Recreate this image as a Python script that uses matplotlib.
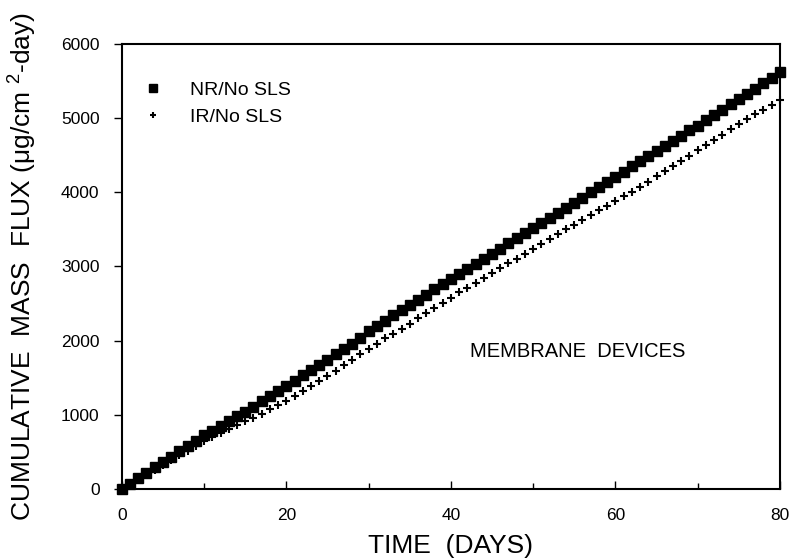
import matplotlib
matplotlib.use("Agg")
import matplotlib.pyplot as plt
import numpy as np
from matplotlib.ticker import MultipleLocator

plt.rcParams['font.family'] = ['Liberation Sans', 'DejaVu Sans']
plt.rcParams['mathtext.fontset'] = 'custom'
plt.rcParams['mathtext.rm'] = 'Liberation Sans'
plt.rcParams['mathtext.it'] = 'Liberation Sans'

days = list(range(0, 81))

# cumulative flux (ug/cm2-day)
nr_no_sls = [0, 60, 140, 215, 290, 360, 435, 510, 580, 650,
             720, 785, 850, 915, 980, 1040, 1110, 1180, 1250, 1320,
             1390, 1460, 1530, 1600, 1670, 1740, 1815, 1890, 1960, 2040,
             2130, 2200, 2270, 2340, 2410, 2480, 2550, 2620, 2690, 2760,
             2830, 2900, 2965, 3035, 3100, 3170, 3240, 3310, 3380, 3450,
             3520, 3590, 3655, 3725, 3790, 3860, 3930, 4000, 4070, 4140,
             4210, 4280, 4350, 4420, 4490, 4560, 4625, 4695, 4765, 4835,
             4900, 4975, 5045, 5115, 5185, 5260, 5330, 5400, 5475, 5545,
             5620]
ir_no_sls = [0, 50, 115, 180, 250, 320, 385, 450, 515, 580,
             640, 700, 755, 810, 860, 910, 955, 1010, 1070, 1130,
             1190, 1255, 1320, 1385, 1450, 1520, 1590, 1665, 1740, 1815,
             1890, 1960, 2030, 2095, 2160, 2230, 2300, 2370, 2440, 2510,
             2580, 2650, 2715, 2780, 2845, 2910, 2975, 3040, 3105, 3170,
             3240, 3305, 3370, 3435, 3500, 3565, 3630, 3690, 3755, 3820,
             3880, 3945, 4010, 4075, 4145, 4215, 4285, 4355, 4425, 4495,
             4570, 4640, 4710, 4780, 4850, 4920, 4985, 5050, 5115, 5180,
             5240]

fig = plt.figure(figsize=(7.91, 5.58), dpi=100)
ax = fig.add_axes([0.154, 0.124, 0.832, 0.797])

ax.plot(days, nr_no_sls, 's', color='black', markersize=7, label='NR/No SLS', clip_on=False)
ax.plot(days, ir_no_sls, '+', color='black', markersize=6, markeredgewidth=1.5,
        label='IR/No SLS', clip_on=False)

ax.set_xlim(0, 80)
ax.set_ylim(0, 6000)
ax.xaxis.set_major_locator(MultipleLocator(20))
ax.xaxis.set_minor_locator(MultipleLocator(10))
ax.yaxis.set_major_locator(MultipleLocator(1000))

ax.tick_params(axis='x', which='both', direction='in', labelsize=12.5, pad=14)
ax.tick_params(axis='x', which='major', length=6, width=1)
ax.tick_params(axis='x', which='minor', length=4, width=1)
ax.tick_params(axis='y', direction='out', length=6, width=1, labelsize=12.5, pad=10)
for s in ax.spines.values():
    s.set_linewidth(1.5)

ax.set_xlabel('TIME  (DAYS)', fontsize=19, labelpad=8)
ax.set_ylabel('CUMULATIVE  MASS  FLUX ($\\mu$g/cm $^{2}$-day)', fontsize=19, labelpad=16)

ax.text(42.3, 1850, 'MEMBRANE  DEVICES', fontsize=14.5, va='center', ha='left')

leg = ax.legend(loc='upper left', bbox_to_anchor=(-0.008, 0.955), frameon=False, fontsize=14,
                handletextpad=0.9, labelspacing=0.45, markerscale=0.8)

fig.savefig('out.png', dpi=100)
